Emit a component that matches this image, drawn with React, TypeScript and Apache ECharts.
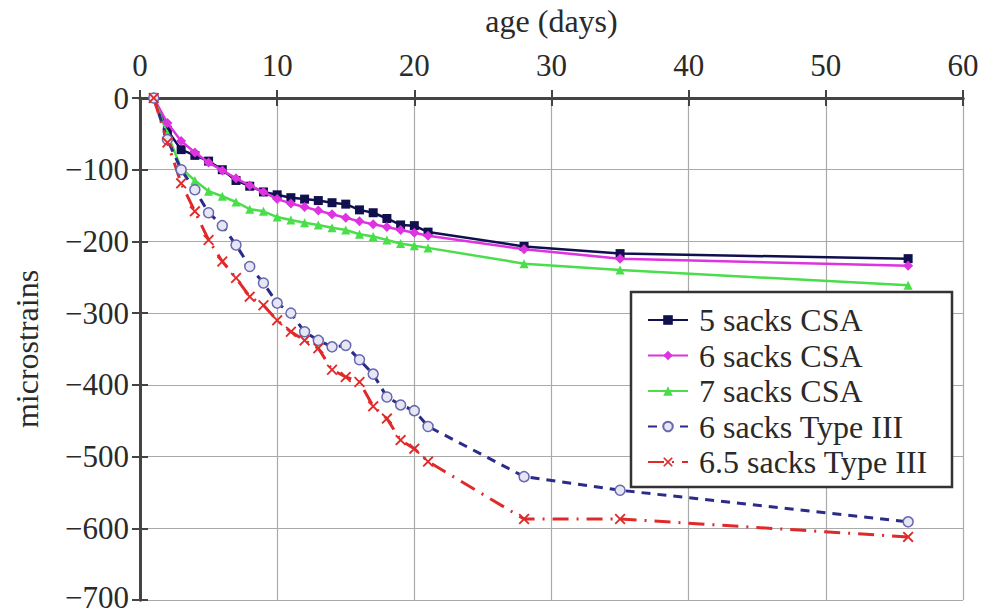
import React, { useEffect, useRef } from "react";
import * as echarts from "echarts";

const days = [1, 2, 3, 4, 5, 6, 7, 8, 9, 10, 11, 12, 13, 14, 15, 16, 17, 18, 19, 20, 21, 28, 35, 56];
const sacks5CSA = [0, -45, -72, -80, -88, -100, -115, -123, -131, -135, -139, -141, -143, -146, -148, -156, -160, -168, -177, -178, -187, -207, -217, -224];
const sacks6CSA = [0, -35, -60, -76, -90, -101, -112, -122, -131, -141, -147, -152, -157, -162, -167, -172, -176, -180, -184, -188, -192, -211, -224, -234];
const sacks7CSA = [0, -50, -98, -115, -130, -137, -145, -155, -158, -166, -170, -174, -177, -181, -184, -190, -193, -198, -203, -206, -209, -231, -240, -261];
const sacks6TypeIII = [0, -58, -100, -128, -160, -178, -205, -235, -258, -286, -300, -326, -338, -347, -345, -365, -385, -417, -428, -436, -458, -528, -547, -591];
const sacks65TypeIII = [0, -62, -119, -158, -198, -228, -251, -277, -289, -310, -326, -338, -349, -379, -389, -396, -430, -447, -477, -489, -507, -587, -587, -612];

const seriesNames = ["5 sacks CSA", "6 sacks CSA", "7 sacks CSA", "6 sacks Type III", "6.5 sacks Type III"];
const xTicks = { min: 0, max: 60, interval: 10 };
const yTicks = { min: -700, max: 0, interval: 100 };

const FONT = "'Liberation Serif', 'DejaVu Serif', serif";
const TXT = "#2a2a2a";
const XSYM = "path://M0,1.2L1.2,0L5,3.8L8.8,0L10,1.2L6.2,5L10,8.8L8.8,10L5,6.2L1.2,10L0,8.8L3.8,5Z";

const pairs = (ys: number[]) => days.map((d, i) => [d, ys[i]]);

export default function App() {
  const ref = useRef<HTMLDivElement>(null);
  useEffect(() => {
    if (!ref.current) return;
    const chart = echarts.init(ref.current, null, { renderer: "svg" });
    const axisLine = { show: true, lineStyle: { color: "#444", width: 3 } };
    const fmtY = (v: number) => {
      const s = v === 0 ? "0" : "\u2212" + Math.abs(v);
      return v === yTicks.min ? "{low|" + s + "}" : s;
    };
    chart.setOption({
      animation: false,
      backgroundColor: "#fff",
      grid: { left: 140, right: 21, top: 98, bottom: 15, containLabel: false, outerBoundsMode: "none" },
      xAxis: [
        {
          type: "value",
          position: "top",
          min: xTicks.min,
          max: xTicks.max,
          interval: xTicks.interval,
          name: "age (days)",
          nameLocation: "middle",
          nameGap: 61,
          nameTextStyle: { fontFamily: FONT, fontSize: 32, color: TXT },
          axisLine,
          axisTick: { show: true, inside: true, length: 8, lineStyle: { color: "#444", width: 2 } },
          axisLabel: { fontFamily: FONT, fontSize: 31, color: TXT, margin: 17 },
          splitLine: { show: true, lineStyle: { color: "#aaa", width: 1.2 } },
        },
        {
          type: "value",
          position: "bottom",
          min: xTicks.min,
          max: xTicks.max,
          interval: xTicks.interval,
          axisLine,
          axisTick: { show: true, inside: true, length: 8, lineStyle: { color: "#444", width: 2 } },
          axisLabel: { show: false },
          splitLine: { show: false },
        },
      ],
      yAxis: [
        {
          type: "value",
          position: "left",
          min: yTicks.min,
          max: yTicks.max,
          interval: yTicks.interval,
          name: "microstrains",
          nameLocation: "middle",
          nameGap: 97,
          nameTextStyle: { fontFamily: FONT, fontSize: 32, color: TXT },
          axisLine,
          axisTick: { show: true, inside: true, length: 8, lineStyle: { color: "#444", width: 2 } },
          axisLabel: {
            fontFamily: FONT,
            fontSize: 31,
            lineHeight: 26,
            color: TXT,
            margin: 11,
            formatter: fmtY,
            rich: {
              low: { fontFamily: FONT, fontSize: 31, lineHeight: 24, color: TXT, padding: [0, 0, 6, 0] },
            },
          },
          splitLine: { show: true, lineStyle: { color: "#aaa", width: 1.2 } },
        },
        {
          type: "value",
          position: "right",
          min: yTicks.min,
          max: yTicks.max,
          interval: yTicks.interval,
          axisLine,
          axisTick: { show: true, inside: true, length: 8, lineStyle: { color: "#444", width: 2 } },
          axisLabel: { show: false },
          splitLine: { show: false },
        },
      ],
      legend: {
        orient: "vertical",
        left: 631,
        top: 292,
        z: 6,
        padding: [12, 14, 12, 16],
        itemWidth: 40,
        itemHeight: 12,
        itemGap: 3.5,
        textStyle: { fontFamily: FONT, fontSize: 32, color: TXT, lineHeight: 32, padding: [0, 0, 0, 6] },
        data: seriesNames,
      },
      graphic: [
        {
          type: "rect",
          z: 3,
          shape: { x: 631, y: 292, width: 321, height: 195 },
          style: { fill: "#fff", stroke: "#333", lineWidth: 2.5 },
        },
      ],
      series: [
        {
          name: seriesNames[0],
          type: "line",
          data: pairs(sacks5CSA),
          symbol: "rect",
          symbolSize: 9,
          color: "#10104e",
          lineStyle: { width: 2.5, color: "#10104e" },
          itemStyle: { color: "#10104e" },
          z: 2,
        },
        {
          name: seriesNames[1],
          type: "line",
          data: pairs(sacks6CSA),
          symbol: "diamond",
          symbolSize: 10,
          color: "#dd33e0",
          lineStyle: { width: 2.5, color: "#dd33e0" },
          itemStyle: { color: "#dd33e0" },
          z: 3,
        },
        {
          name: seriesNames[2],
          type: "line",
          data: pairs(sacks7CSA),
          symbol: "triangle",
          symbolSize: 9,
          color: "#4ade4a",
          lineStyle: { width: 2.5, color: "#4ade4a" },
          itemStyle: { color: "#4ade4a" },
          z: 3,
        },
        {
          name: seriesNames[3],
          type: "line",
          data: pairs(sacks6TypeIII),
          symbol: "circle",
          symbolSize: 10,
          showAllSymbol: true,
          color: "#2b2b8a",
          lineStyle: { width: 3, color: "#2b2b8a", type: [9, 7] },
          itemStyle: { color: "#e6e6f4", borderColor: "#6868b0", borderWidth: 1.5 },
          z: 3,
        },
        {
          name: seriesNames[4],
          type: "line",
          data: pairs(sacks65TypeIII),
          symbol: XSYM,
          symbolSize: 11,
          color: "#e02a2a",
          lineStyle: { width: 3, color: "#e02a2a", type: [16, 8, 2, 8] },
          itemStyle: { color: "#e02a2a" },
          z: 3,
        },
      ],
    });
    return () => chart.dispose();
  }, []);
  return <div ref={ref} style={{ width: 984, height: 615, position: "absolute", left: 0, top: 0 }} />;
}
